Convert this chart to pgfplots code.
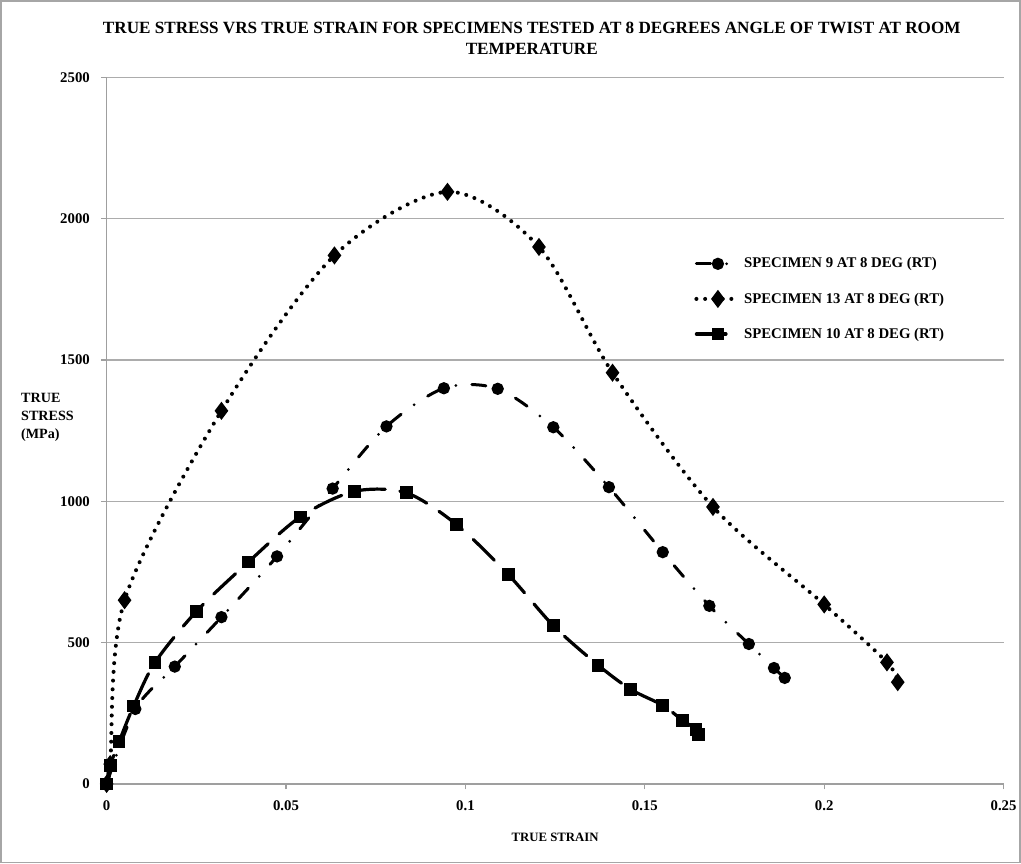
\documentclass[border=0pt]{standalone}
\usepackage{fontspec}
\setmainfont{Liberation Serif}
\usepackage{pgfplots}
\pgfplotsset{compat=1.18}
\begin{document}
\begin{tikzpicture}
\begin{axis}[
  scale only axis,
  width=667.5pt, height=525.75pt,
  xmin=0, xmax=0.25, ymin=0, ymax=2500,
  axis lines=left,
  axis line style={-, draw=gray!75, line width=1.2pt},
  xtick={0,0.05,0.1,0.15,0.2,0.25},
  xticklabels={0,0.05,0.1,0.15,0.2,0.25},
  ytick={0,500,1000,1500,2000,2500},
  yticklabels={0,500,1000,1500,2000,2500},
  /pgf/number format/assume math mode=true,
  tick align=outside,
  major tick length=4pt,
  tick style={draw=gray!75, line width=0.8pt},
  ymajorgrids, grid style={draw=gray!65, line width=0.9pt},
  ticklabel style={font=\fontsize{11}{13}\selectfont\bfseries},
  xticklabel style={yshift=-5pt},
  yticklabel style={xshift=-5pt},
  clip=false,
  legend style={at={(0.655,0.749)}, anchor=north west, draw=none, fill=none,
    font=\fontsize{11}{13}\selectfont\bfseries, row sep=13pt, inner sep=0pt,
    /tikz/every even column/.append style={column sep=4pt}},
  legend cell align=left,
  legend image code/.code={\draw[mark repeat=2, mark phase=2, #1] plot coordinates {(0pt,0pt) (16pt,0pt) (32pt,0pt)};},
]
% Specimen 9
\addplot[smooth, black, line width=2.25pt, line cap=round,
  dash pattern=on 10.5pt off 12pt on 0pt off 12pt,
  mark=*, mark size=3.4pt, mark options={solid}] coordinates {
(0,0) (0.008,265) (0.019,415) (0.032,590) (0.0475,805) (0.063,1045) (0.078,1265)
(0.094,1400) (0.109,1398) (0.1245,1262) (0.14,1050) (0.155,820) (0.168,630)
(0.179,495) (0.186,410) (0.189,375)};
\addlegendentry{SPECIMEN 9 AT 8 DEG (RT)}
% Specimen 13
\addplot[smooth, black, line width=3pt, line cap=round,
  dash pattern=on 0pt off 6.5pt,
  mark=diamond*, mark size=4.3pt, mark options={solid}] coordinates {
(0,0) (0.001,70) (0.005,650) (0.032,1320) (0.0635,1870) (0.095,2095)
(0.1205,1900) (0.141,1455) (0.169,980) (0.2,635) (0.2175,430) (0.2205,360)};
\addlegendentry{SPECIMEN 13 AT 8 DEG (RT)}
% Specimen 10
\addplot[smooth, black, line width=2.4pt, line cap=round,
  dash pattern=on 22pt off 11pt,
  mark=square*, mark size=3.5pt, mark options={solid}] coordinates {
(0,0) (0.001,65) (0.0035,150) (0.0075,275) (0.0135,430) (0.025,610) (0.0395,785)
(0.054,945) (0.069,1035) (0.0835,1030) (0.0975,918) (0.112,740) (0.1245,560)
(0.137,420) (0.146,335) (0.155,278) (0.1605,225) (0.1643,193) (0.165,175)};
\addlegendentry{SPECIMEN 10 AT 8 DEG (RT)}
\node[anchor=base, inner sep=0pt, font=\fontsize{12.75}{15}\selectfont\bfseries]
  at ([yshift=33pt]rel axis cs:0.474,1) {TRUE STRESS VRS TRUE STRAIN FOR SPECIMENS TESTED AT 8 DEGREES ANGLE OF TWIST AT ROOM};
\node[anchor=base, inner sep=0pt, font=\fontsize{12.75}{15}\selectfont\bfseries]
  at ([yshift=17.25pt]rel axis cs:0.474,1) {TEMPERATURE};
\node[anchor=base, inner sep=0pt, font=\fontsize{9.5}{11}\selectfont\bfseries]
  at ([yshift=-42.75pt]rel axis cs:0.5,0) {TRUE STRAIN};
\node[anchor=west, align=left, inner sep=0pt, font=\fontsize{10.5}{13.2}\selectfont\bfseries]
  at (rel axis cs:-0.0955,0.519) {TRUE\\STRESS\\(MPa)};
\end{axis}
\draw[gray!70, line width=1.2pt] ([xshift=-78.75pt,yshift=-58.5pt]current axis.south west) rectangle ([xshift=12pt,yshift=57pt]current axis.north east);
\end{tikzpicture}
\end{document}
